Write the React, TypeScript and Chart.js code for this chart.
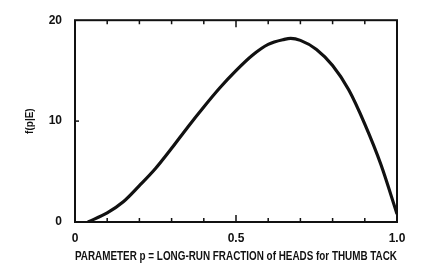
import React, { useEffect, useRef } from "react";
import { Chart, registerables } from "chart.js";

Chart.register(...registerables);

const pValues = [0.04, 0.1, 0.15, 0.2, 0.25, 0.3, 0.35, 0.4, 0.45, 0.5, 0.55, 0.6, 0.65, 0.67, 0.7, 0.75, 0.8, 0.85, 0.9, 0.95, 1.0];
const density = [0, 0.9, 2.0, 3.6, 5.3, 7.3, 9.4, 11.4, 13.3, 15.0, 16.5, 17.6, 18.1, 18.2, 18.0, 17.1, 15.5, 13.1, 9.7, 5.7, 0.8];
const xTickLabels: Record<string, string> = { "0": "0", "0.5": "0.5", "1": "1.0" };
const yTickValues = [0, 10, 20];
const xTitle = "PARAMETER p = LONG-RUN FRACTION of HEADS for THUMB TACK";
const yTitle = "f(p|E)";

const FONT = "'Liberation Sans', Arial, sans-serif";
const INK = "#111";

export default function App() {
  const ref = useRef<HTMLCanvasElement>(null);
  useEffect(() => {
    if (!ref.current) return;
    const frame = {
      id: "frameBox",
      afterDraw(chart: any) {
        const ctx = chart.ctx;
        const a = chart.chartArea;
        const xs = chart.scales.x;
        const ys = chart.scales.y;
        ctx.save();
        ctx.strokeStyle = INK;
        ctx.lineWidth = 2;
        ctx.strokeRect(a.left, a.top, a.right - a.left, a.bottom - a.top);
        ctx.lineWidth = 1.5;
        for (let i = 1; i < 10; i++) {
          const px = xs.getPixelForValue(i / 10);
          const len = i === 5 ? 7 : 4;
          ctx.beginPath();
          ctx.moveTo(px, a.bottom);
          ctx.lineTo(px, a.bottom - len);
          ctx.moveTo(px, a.top);
          ctx.lineTo(px, a.top + len);
          ctx.stroke();
        }
        const py = ys.getPixelForValue(10);
        ctx.beginPath();
        ctx.moveTo(a.left, py);
        ctx.lineTo(a.left + 4, py);
        ctx.stroke();
        ctx.restore();
      },
    };
    const data = pValues.map((p, i) => ({ x: p, y: density[i] }));
    const chart = new Chart(ref.current, {
      type: "line",
      data: {
        datasets: [
          { data, borderColor: INK, borderWidth: 3.2, pointRadius: 0, cubicInterpolationMode: "monotone", fill: false },
        ],
      },
      options: {
        animation: false,
        responsive: false,
        maintainAspectRatio: false,
        layout: { padding: { top: 12.8, right: 39, left: 0, bottom: 0 } },
        plugins: { legend: { display: false }, tooltip: { enabled: false } },
        scales: {
          x: {
            type: "linear",
            min: 0,
            max: 1,
            grid: { display: false, drawTicks: false },
            border: { display: false },
            afterFit: (s: any) => { s.height = 45; },
            afterBuildTicks: (s: any) => {
              s.ticks = [0, 0.5, 1].map((v) => ({ value: v }));
            },
            ticks: {
              color: INK,
              font: { family: FONT, size: 12, weight: "bold" },
              padding: 9,
              maxRotation: 0,
              callback: (v: any) => xTickLabels[String(v)] ?? "",
            },
            title: { display: true, text: xTitle, color: INK, font: { family: FONT, size: 13, weight: "bold" }, padding: { top: 0, bottom: 3 } },
          },
          y: {
            type: "linear",
            min: 0,
            max: 20,
            grid: { display: false, drawTicks: false },
            border: { display: false },
            afterFit: (s: any) => { s.width = 75; },
            afterBuildTicks: (s: any) => {
              s.ticks = yTickValues.map((v) => ({ value: v }));
            },
            ticks: { color: INK, font: { family: FONT, size: 12, weight: "bold" }, padding: 13 },
            title: { display: true, text: yTitle, color: INK, font: { family: FONT, size: 10, weight: "bold" }, padding: { top: 24, bottom: 0 } },
          },
        },
      },
      plugins: [frame],
    } as any);
    return () => chart.destroy();
  }, []);
  return (
    <div style={{ position: "fixed", left: 0, top: 0, width: 436, height: 267, background: "#fff" }}>
      <canvas ref={ref} width={436} height={267} style={{ width: 436, height: 267 }} />
    </div>
  );
}
